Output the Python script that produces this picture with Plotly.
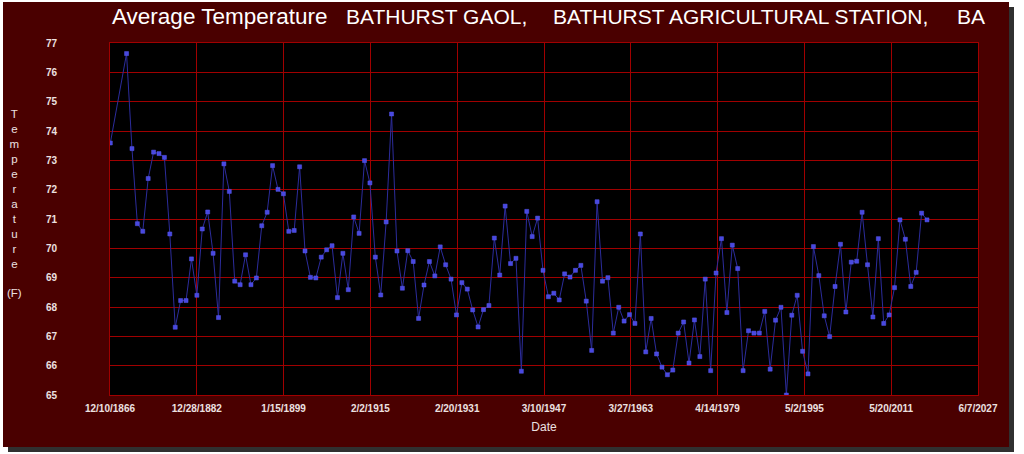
import plotly.graph_objects as go

years = [1867] + list(range(1870, 2019))
temps = [
    73.59,
    76.64, 73.40, 70.84, 70.58, 72.38, 73.28, 73.23, 73.10, 70.49, 67.31,
    68.22, 68.22, 69.64, 68.40, 70.66, 71.24, 69.83, 67.64, 72.88, 71.94,
    68.88, 68.76, 69.78, 68.76, 68.99, 70.77, 71.23, 72.82, 72.01, 71.86,
    70.58, 70.61, 72.78, 69.91, 69.01, 68.99, 69.70, 69.95, 70.09, 68.32,
    69.83, 68.59, 71.07, 70.51, 72.99, 72.23, 69.70, 68.41, 70.90, 74.58,
    69.91, 68.64, 69.92, 69.55, 67.61, 68.75, 69.55, 69.06, 70.05, 69.44,
    68.95, 67.73, 68.83, 68.61, 67.90, 67.32, 67.91, 68.05, 70.35, 69.09,
    71.44, 69.48, 69.66, 65.81, 71.26, 70.40, 71.03, 69.25, 68.35, 68.47,
    68.24, 69.13, 69.02, 69.25, 69.42, 68.20, 66.52, 71.59, 68.88, 69.00,
    67.11, 67.99, 67.52, 67.74, 67.44, 70.49, 66.47, 67.61, 66.40, 65.95,
    65.69, 65.85, 67.11, 67.49, 66.09, 67.56, 66.31, 68.95, 65.83, 69.16,
    70.33, 67.81, 70.11, 69.31, 65.83, 67.19, 67.11, 67.11, 67.85, 65.88,
    67.55, 67.99, 65.00, 67.72, 68.40, 66.49, 65.72, 70.06, 69.07, 67.70,
    66.99, 68.70, 70.14, 67.83, 69.53, 69.56, 71.23, 69.44, 67.66, 70.33,
    67.44, 67.73, 68.66, 70.97, 70.31, 68.70, 69.18, 71.20, 70.97,
]
tick_dates = ["1866-12-10", "1882-12-28", "1899-01-15", "1915-02-02", "1931-02-20",
              "1947-03-10", "1963-03-27", "1979-04-14", "1995-05-02", "2011-05-20",
              "2027-06-07"]
tick_labels = ["12/10/1866", "12/28/1882", "1/15/1899", "2/2/1915", "2/20/1931",
               "3/10/1947", "3/27/1963", "4/14/1979", "5/2/1995", "5/20/2011",
               "6/7/2027"]
title_parts = ["Average Temperature", "BATHURST GAOL,",
               "BATHURST AGRICULTURAL STATION,", "BA"]
title_px = [110, 344, 551, 955]

dates = [f"{y}-01-01" for y in years]

PANEL = "#4a0000"
GRID = "#a00000"
TXT = "#ece0e0"

L, R, T, B = 110, 46, 43, 59
W, H = 1024, 454
pw, ph = W - L - R, H - T - B

def px_x(x):
    return (x - L) / pw

def px_y(y):
    return (H - B - y) / ph

fig = go.Figure()
fig.add_trace(go.Scatter(
    x=dates, y=temps, mode="lines+markers",
    line=dict(color="#2c2c9c", width=1),
    marker=dict(symbol="square", size=4, color="#4848e0",
                line=dict(color="#5a5af0", width=0.5)),
    cliponaxis=True, showlegend=False,
))

shapes = [
    dict(type="rect", xref="paper", yref="paper", layer="below",
         x0=px_x(8), x1=px_x(1014), y0=px_y(452), y1=px_y(7),
         fillcolor="#303030", line=dict(width=0)),
    dict(type="rect", xref="paper", yref="paper", layer="below",
         x0=px_x(3), x1=px_x(1009), y0=px_y(447), y1=px_y(2),
         fillcolor=PANEL, line=dict(width=0)),
    dict(type="rect", xref="paper", yref="paper", layer="below",
         x0=0, x1=1, y0=0, y1=1, fillcolor="#000000", line=dict(width=0)),
]

annotations = []
title_sizes = [22.5, 21, 21, 21]
for txt, p, s in zip(title_parts, title_px, title_sizes):
    annotations.append(dict(
        text=txt, x=px_x(p), y=px_y(17), xref="paper", yref="paper",
        xanchor="left", yanchor="middle", showarrow=False,
        font=dict(family="Liberation Sans, Arial", size=s, color="#ffffff"),
    ))
annotations.append(dict(
    text="<br>".join(list("Temperature")) + "<br><br>(F)",
    x=px_x(14), y=px_y(203), xref="paper", yref="paper",
    xanchor="center", yanchor="middle", showarrow=False, align="center",
    font=dict(family="Liberation Sans, Arial", size=11.5, color=TXT),
))

fig.update_layout(
    width=W, height=H,
    margin=dict(l=L, r=R, t=T, b=B),
    paper_bgcolor="#ffffff",
    plot_bgcolor="rgba(0,0,0,0)",
    shapes=shapes,
    annotations=annotations,
    xaxis=dict(
        range=[tick_dates[0], tick_dates[-1]],
        tickvals=tick_dates, ticktext=tick_labels,
        showgrid=True, gridcolor=GRID, gridwidth=1,
        showline=True, linecolor=GRID, mirror=True, zeroline=False,
        ticks="", ticklabelstandoff=4,
        tickfont=dict(family="Liberation Sans, Arial", size=10, color=TXT, weight="bold"),
        title=dict(text="Date", standoff=9,
                   font=dict(family="Liberation Sans, Arial", size=12, color=TXT)),
    ),
    yaxis=dict(
        range=[65, 77], dtick=1, tick0=65,
        showgrid=True, gridcolor=GRID, gridwidth=1,
        showline=True, linecolor=GRID, mirror=True, zeroline=False,
        ticks="", ticklabelstandoff=50,
        tickfont=dict(family="Liberation Sans, Arial", size=10, color=TXT, weight="bold"),
    ),
)

fig.write_html("out.html", config={"displayModeBar": False},
               post_script="document.body.style.margin='0';document.body.style.overflow='hidden';")
